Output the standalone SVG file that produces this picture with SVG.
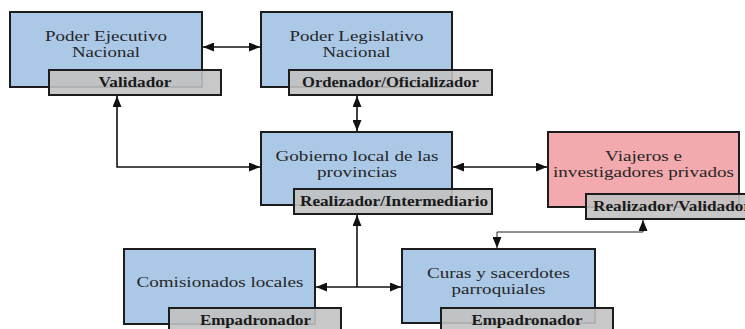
<svg xmlns="http://www.w3.org/2000/svg" width="745" height="329" viewBox="0 0 745 329">
<style>
.box{stroke:#1c1c1c;stroke-width:2}
.blue{fill:#abc9e7}
.pink{fill:#f2aaae}
.lab{fill:#c2c2c2;fill-opacity:0.9;stroke:#1c1c1c;stroke-width:2}
.t{font-family:'Liberation Serif','DejaVu Serif',serif;font-size:15px;fill:#262626;text-anchor:middle}
.b{font-family:'Liberation Serif','DejaVu Serif',serif;font-size:14px;font-weight:bold;fill:#1a1a1a;text-anchor:middle}
.c{fill:none;stroke:#111;stroke-width:1.6}
.thin{fill:none;stroke:#222;stroke-width:1}
</style>
<defs>
<marker id="ah" viewBox="0 0 11 9" refX="11" refY="4.5" markerWidth="11" markerHeight="9" markerUnits="userSpaceOnUse" orient="auto-start-reverse">
<path d="M0,0 L11,4.5 L0,9 z" fill="#111"/>
</marker>
</defs>
<rect width="745" height="329" fill="#ffffff"/>
<g id="connectors">
<line class="c" x1="203" y1="47" x2="260" y2="47" marker-start="url(#ah)" marker-end="url(#ah)"/>
<line class="c" x1="357" y1="96" x2="357" y2="131" marker-start="url(#ah)" marker-end="url(#ah)"/>
<polyline class="c" points="117,96 117,167 260,167" marker-start="url(#ah)" marker-end="url(#ah)"/>
<line class="c" x1="453" y1="167" x2="547" y2="167" marker-start="url(#ah)" marker-end="url(#ah)"/>
<polyline class="thin" points="643,220 643,232 497,232 497,248" marker-start="url(#ah)" marker-end="url(#ah)"/>
<line class="c" x1="357" y1="215" x2="357" y2="287" marker-start="url(#ah)"/>
<line class="c" x1="316" y1="287" x2="401" y2="287" marker-start="url(#ah)" marker-end="url(#ah)"/>
</g>
<g id="ejecutivo">
<rect class="box blue" x="10" y="12" width="192" height="75"/>
<text class="t" x="106" y="40.5" textLength="122" lengthAdjust="spacingAndGlyphs">Poder Ejecutivo</text>
<text class="t" x="106" y="56.5" textLength="68" lengthAdjust="spacingAndGlyphs">Nacional</text>
<rect class="lab" x="49" y="70" width="172" height="25"/>
<text class="b" x="135" y="87" textLength="73" lengthAdjust="spacingAndGlyphs">Validador</text>
</g>
<g id="legislativo">
<rect class="box blue" x="261" y="12" width="191" height="75"/>
<text class="t" x="356.5" y="40.5" textLength="134" lengthAdjust="spacingAndGlyphs">Poder Legislativo</text>
<text class="t" x="356.5" y="56.5" textLength="68" lengthAdjust="spacingAndGlyphs">Nacional</text>
<rect class="lab" x="289" y="70" width="203" height="25"/>
<text class="b" x="390.5" y="87" textLength="177" lengthAdjust="spacingAndGlyphs">Ordenador/Oficializador</text>
</g>
<g id="gobierno">
<rect class="box blue" x="261" y="132" width="191" height="73"/>
<text class="t" x="357" y="160.5" textLength="163" lengthAdjust="spacingAndGlyphs">Gobierno local de las</text>
<text class="t" x="357" y="176.5" textLength="80" lengthAdjust="spacingAndGlyphs">provincias</text>
<rect class="lab" x="294" y="189" width="198" height="25"/>
<text class="b" x="394" y="206" textLength="188" lengthAdjust="spacingAndGlyphs">Realizador/Intermediario</text>
</g>
<g id="viajeros">
<rect class="box pink" x="548" y="132" width="191" height="75"/>
<text class="t" x="643.5" y="160.5" textLength="77" lengthAdjust="spacingAndGlyphs">Viajeros e</text>
<text class="t" x="643.5" y="176.5" textLength="181" lengthAdjust="spacingAndGlyphs">investigadores privados</text>
<rect class="lab" x="586" y="194" width="175" height="25"/>
<text class="b" x="593" y="211" style="text-anchor:start" textLength="158" lengthAdjust="spacingAndGlyphs">Realizador/Validador</text>
</g>
<g id="comisionados">
<rect class="box blue" x="124" y="249" width="191" height="75"/>
<text class="t" x="220" y="286.5" textLength="167" lengthAdjust="spacingAndGlyphs">Comisionados locales</text>
<rect class="lab" x="169" y="308" width="172" height="25"/>
<text class="b" x="255.5" y="325" textLength="111" lengthAdjust="spacingAndGlyphs">Empadronador</text>
</g>
<g id="curas">
<rect class="box blue" x="402" y="249" width="193" height="74"/>
<text class="t" x="498.5" y="277.5" textLength="143" lengthAdjust="spacingAndGlyphs">Curas y sacerdotes</text>
<text class="t" x="498.5" y="293.5" textLength="94" lengthAdjust="spacingAndGlyphs">parroquiales</text>
<rect class="lab" x="441" y="308" width="172" height="25"/>
<text class="b" x="527" y="325" textLength="111" lengthAdjust="spacingAndGlyphs">Empadronador</text>
</g>
</svg>
